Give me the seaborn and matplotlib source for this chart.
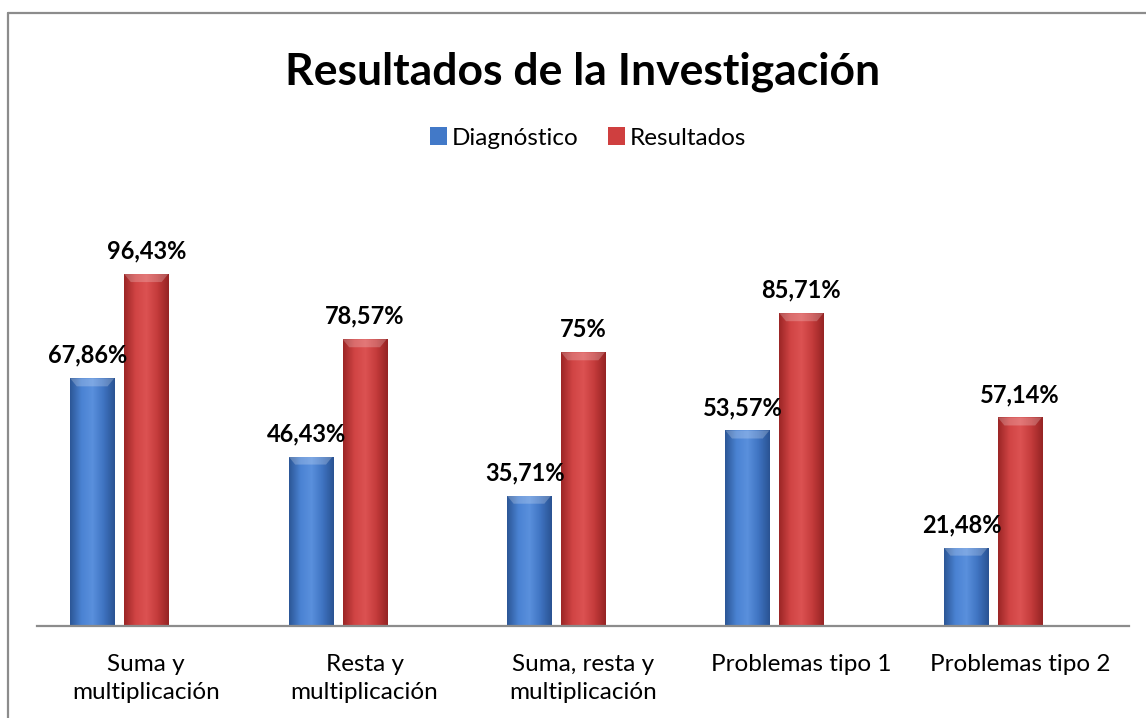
import matplotlib
matplotlib.use("Agg")
import matplotlib.pyplot as plt
import numpy as np
import pandas as pd
import seaborn as sns
from matplotlib.colors import LinearSegmentedColormap
from matplotlib.patches import Patch
from matplotlib.lines import Line2D

categorias = ["Suma y\nmultiplicación", "Resta y\nmultiplicación",
              "Suma, resta y\nmultiplicación", "Problemas tipo 1", "Problemas tipo 2"]
diagnostico = [67.86, 46.43, 35.71, 53.57, 21.48]
resultados = [96.43, 78.57, 75.00, 85.71, 57.14]
series = ["Diagnóstico", "Resultados"]
# Excel reserva un hueco para una tercera serie vacía
orden_series = series + ["(vacía)"]

df = pd.DataFrame({
    "categoria": categorias * 2,
    "valor": diagnostico + resultados,
    "serie": [series[0]] * 5 + [series[1]] * 5,
})

colores = {"Diagnóstico": "#4279c8", "Resultados": "#cf3f3f", "(vacía)": "white"}
degradados = {
    "Diagnóstico": ["#2c5797", "#4a82d2", "#5a90dd", "#3f74c2", "#2a5393"],
    "Resultados": ["#9c2626", "#d04444", "#dc5252", "#c43b3b", "#962424"],
}

sns.set_theme(style="white")
plt.rcParams["font.family"] = ["Lato", "DejaVu Sans"]
plt.rcParams["text.color"] = "black"
plt.rcParams["xtick.color"] = "black"

fig = plt.figure(figsize=(11.46, 7.18), dpi=100)
ax = fig.add_axes([37 / 1146, 1 - 626 / 718, 1092 / 1146, 365 / 718])

sns.barplot(data=df, x="categoria", y="valor", hue="serie", hue_order=orden_series,
            palette=colores, width=0.742, gap=0.185, ax=ax, legend=False, saturation=1)


def etiqueta(v):
    return (f"{v:.0f}%" if float(v).is_integer() else f"{v:.2f}%".replace(".", ","))


for serie, cont, valores in zip(series, ax.containers, [diagnostico, resultados]):
    cmap = LinearSegmentedColormap.from_list(serie, degradados[serie])
    grad = np.linspace(0, 1, 64).reshape(1, -1)
    for patch, v in zip(cont.patches, valores):
        x0, y0 = patch.get_x(), patch.get_y()
        w, h = patch.get_width(), patch.get_height()
        # degradado tipo Excel
        im = ax.imshow(grad, cmap=cmap, aspect="auto", extent=(x0, x0 + w, y0, y0 + h),
                       zorder=patch.get_zorder() + 0.1)
        im.set_clip_path(patch)
        bev = h - 2.2 if h > 3 else h
        ax.fill([x0, x0 + w, x0 + w * 0.85, x0 + w * 0.15], [h, h, bev, bev],
                color="white", alpha=0.22, lw=0, zorder=patch.get_zorder() + 0.2)
        cx = x0 + w / 2
        if serie == "Diagnóstico":
            cx -= 0.02
        ax.text(cx, v + 6.3, etiqueta(v), ha="center", va="center",
                fontsize=17, fontweight="bold", color="black", clip_on=False)

ax.set_xlim(-0.5, 4.5)
ax.set_ylim(0, 100)

ax.set_xlabel("")
ax.set_ylabel("")
ax.set_yticks([])
ax.set_xticks(range(5))
ax.set_xticklabels(categorias, fontsize=17.5, color="black", linespacing=1.4)
ax.tick_params(axis="x", length=0, pad=20)
for s in ["top", "right", "left"]:
    ax.spines[s].set_visible(False)
ax.spines["bottom"].set_bounds(-0.5, 4.5)
ax.spines["bottom"].set_color("#8c8c8c")
ax.spines["bottom"].set_linewidth(1.6)
ax.patch.set_alpha(0)

fig.text(583 / 1146, 1 - 72 / 718, "Resultados de la Investigación",
         ha="center", va="center", fontsize=32, fontweight="bold", color="black")

handles = [Patch(facecolor=colores[s], edgecolor="none") for s in series]
fig.legend(handles, series, loc="center", bbox_to_anchor=(588 / 1146, 1 - 138 / 718),
           ncol=2, frameon=False, fontsize=17.5, handlelength=0.7, handleheight=0.7,
           handletextpad=0.2, columnspacing=1.2)

# marco del gráfico
fig.add_artist(Line2D([7.5 / 1146, 7.5 / 1146], [0, 1 - 13 / 718],
                      transform=fig.transFigure, color="#8c8c8c", lw=1.6))
fig.add_artist(Line2D([7.5 / 1146, 1], [1 - 13 / 718, 1 - 13 / 718],
                      transform=fig.transFigure, color="#8c8c8c", lw=1.6))

fig.savefig("out.png", dpi=100, facecolor="white")
